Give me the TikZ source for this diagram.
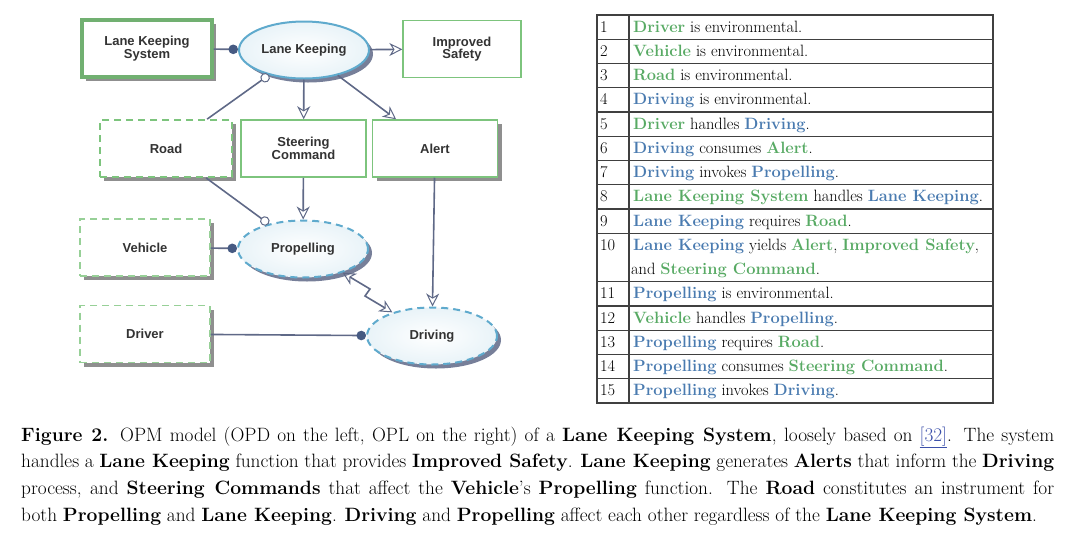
\documentclass[tikz,border=0pt]{standalone}
\usepackage{fontspec}
\newfontfamily\opdfont{Liberation Sans}
\usetikzlibrary{arrows.meta, positioning, shapes.geometric, shadows, calc}
\definecolor{objgreen}{RGB}{125,196,125}
\definecolor{procblue}{RGB}{95,170,205}
\definecolor{linkgray}{RGB}{95,105,135}
\definecolor{agentblue}{RGB}{70,90,130}
\definecolor{txtgreen}{RGB}{88,170,100}
\definecolor{txtblue}{RGB}{74,123,176}
\definecolor{refblue}{RGB}{60,80,170}
\newcommand{\obj}[1]{\textcolor{txtgreen}{\textbf{#1}}}
\newcommand{\proc}[1]{\textcolor{txtblue}{\textbf{#1}}}
\def\rowsep{24.25}

\begin{document}
\begin{tikzpicture}[x=1pt, y=-1pt, >={Stealth[open, length=13pt, width=13pt, inset=4pt, line width=1pt]}]
    \tikzstyle{object}=[rectangle, draw=objgreen, line width=1.8pt, fill=white, minimum width=130pt, minimum height=57pt, inner sep=2pt, align=center, text=black!80, font=\opdfont\bfseries\fontsize{13}{12.5}\selectfont]
    \tikzstyle{process}=[ellipse, draw=procblue, line width=2pt, inner color=white, outer color=procblue!14, minimum width=130pt, minimum height=57pt, inner sep=0pt, text=black!80, font=\opdfont\bfseries\fontsize{13}{12.5}\selectfont]
    \tikzstyle{env}=[dash pattern=on 7pt off 5pt]
    \tikzstyle{shade}=[drop shadow={shadow xshift=4pt, shadow yshift=-4pt, fill=black!55, opacity=0.8}]
    \tikzstyle{procshade}=[drop shadow={shadow xshift=4pt, shadow yshift=-4pt, fill=linkgray, opacity=0.85}]
    \tikzstyle{link}=[draw=linkgray, line width=1.6pt]
    \tikzstyle{agent}=[link, -{Circle[length=9.5pt, color=agentblue]}]
    \tikzstyle{instrument}=[link, -{Circle[open, length=9.5pt, fill=white, line width=1pt]}]
    \tikzstyle{effect}=[link, ->]
    \tikzstyle{oplrow}=[anchor=base west, inner sep=0pt, font=\fontsize{16.4}{18}\selectfont]
    \tikzstyle{capline}=[anchor=base west, inner sep=0pt, font=\fontsize{19.3}{26.7}\selectfont]

    \useasboundingbox (0,0) rectangle (1080,555);

    % OPD
    \node[object, line width=3.2pt, draw=objgreen!90!black, shade] (LKS) at (147,48.5) {Lane Keeping\\System};
    \node[process, procshade] (LK) at (304,50) {Lane Keeping};
    \node[object, line width=1.3pt, minimum width=118pt] (Safety) at (462,49) {Improved\\Safety};
    \node[object, env, shade, minimum width=132pt] (Road) at (166,148.5) {Road};
    \node[object, line width=1.5pt, minimum width=125pt] (Steer) at (303.5,148.5) {Steering\\Command};
    \node[object, line width=1.5pt, minimum width=125pt, shade] (Alert) at (435,148.5) {Alert};
    \node[object, env, line width=1.3pt, draw=objgreen!80, shade] (Vehicle) at (145,247.5) {Vehicle};
    \node[process, env, procshade] (Prop) at (303,249) {Propelling};
    \node[object, env, line width=1.3pt, draw=objgreen!80, shade] (Driver) at (145,334) {Driver};
    \node[process, env, procshade] (Drive) at (432,336) {Driving};

    \path (LKS) edge[agent] (LK);
    \path (LK) edge[effect] (Safety);
    \path (LK) edge[effect] (Steer);
    \path (LK) edge[effect] (Alert);
    \path (Road) edge[instrument] (LK);
    \path (Road) edge[instrument] (Prop);
    \path (Steer) edge[effect] (Prop);
    \path (Alert) edge[effect] (Drive);
    \path (Vehicle) edge[agent] (Prop);
    \path (Driver) edge[agent] (Drive);
    \draw[link, <->] (Prop) -- ($(Prop)!0.5!(Drive)+(2.5,-3.5)$) -- ($(Prop)!0.5!(Drive)+(-2.5,3.5)$) -- (Drive);

    % OPL
    \draw[black!75, line width=1.1pt] (597,15) rectangle (993,403);
    \draw[black!75, line width=1.1pt] (629,15) -- (629,403);
    \foreach \k in {1,2,3,4,5,6,7,8,9,11,12,13,14,15}
        \draw[black!75, line width=1.1pt] (597,{15+\k*\rowsep}) -- (993,{15+\k*\rowsep});

    \foreach \n/\k/\txt in {
        1/0/{\obj{Driver} is environmental.},
        2/1/{\obj{Vehicle} is environmental.},
        3/2/{\obj{Road} is environmental.},
        4/3/{\proc{Driving} is environmental.},
        5/4/{\obj{Driver} handles \proc{Driving}.},
        6/5/{\proc{Driving} consumes \obj{Alert}.},
        7/6/{\proc{Driving} invokes \proc{Propelling}.},
        8/7/{\obj{Lane Keeping System} handles \proc{Lane Keeping}.},
        9/8/{\proc{Lane Keeping} requires \obj{Road}.},
        10/9/{\proc{Lane Keeping} yields \obj{Alert}, \obj{Improved Safety},},
        11/11/{\proc{Propelling} is environmental.},
        12/12/{\obj{Vehicle} handles \proc{Propelling}.},
        13/13/{\proc{Propelling} requires \obj{Road}.},
        14/14/{\proc{Propelling} consumes \obj{Steering Command}.},
        15/15/{\proc{Propelling} invokes \proc{Driving}.}}{
        \node[oplrow] (num-\n) at (600,{15+\k*\rowsep+17}) {\n};
        \node[oplrow] (opl-\n) at (633,{15+\k*\rowsep+17}) {\txt};
    }
    \node[oplrow] (opl-10b) at (631,{15+10*\rowsep+17}) {and \obj{Steering Command}.};

    % caption
    \foreach \i/\line in {
        1/{\makebox[1033pt][s]{\textbf{Figure 2.} OPM model (OPD on the left, OPL on the right) of a \textbf{Lane Keeping System}, loosely based on \textcolor{refblue}{\underline{[32]}}. The system}},
        2/{\makebox[1033pt][s]{handles a \textbf{Lane Keeping} function that provides \textbf{Improved Safety}. \textbf{Lane Keeping} generates \textbf{Alerts} that inform the \textbf{Driving}}},
        3/{\makebox[1033pt][s]{process, and \textbf{Steering Commands} that affect the \textbf{Vehicle}'s \textbf{Propelling} function. The \textbf{Road} constitutes an instrument for}},
        4/{both \textbf{Propelling} and \textbf{Lane Keeping}. \textbf{Driving} and \textbf{Propelling} affect each other regardless of the \textbf{Lane Keeping System}.}}{
        \node[capline] (cap-\i) at (21,{441+(\i-1)*26.7}) {\line};
    }
\end{tikzpicture}
\end{document}
